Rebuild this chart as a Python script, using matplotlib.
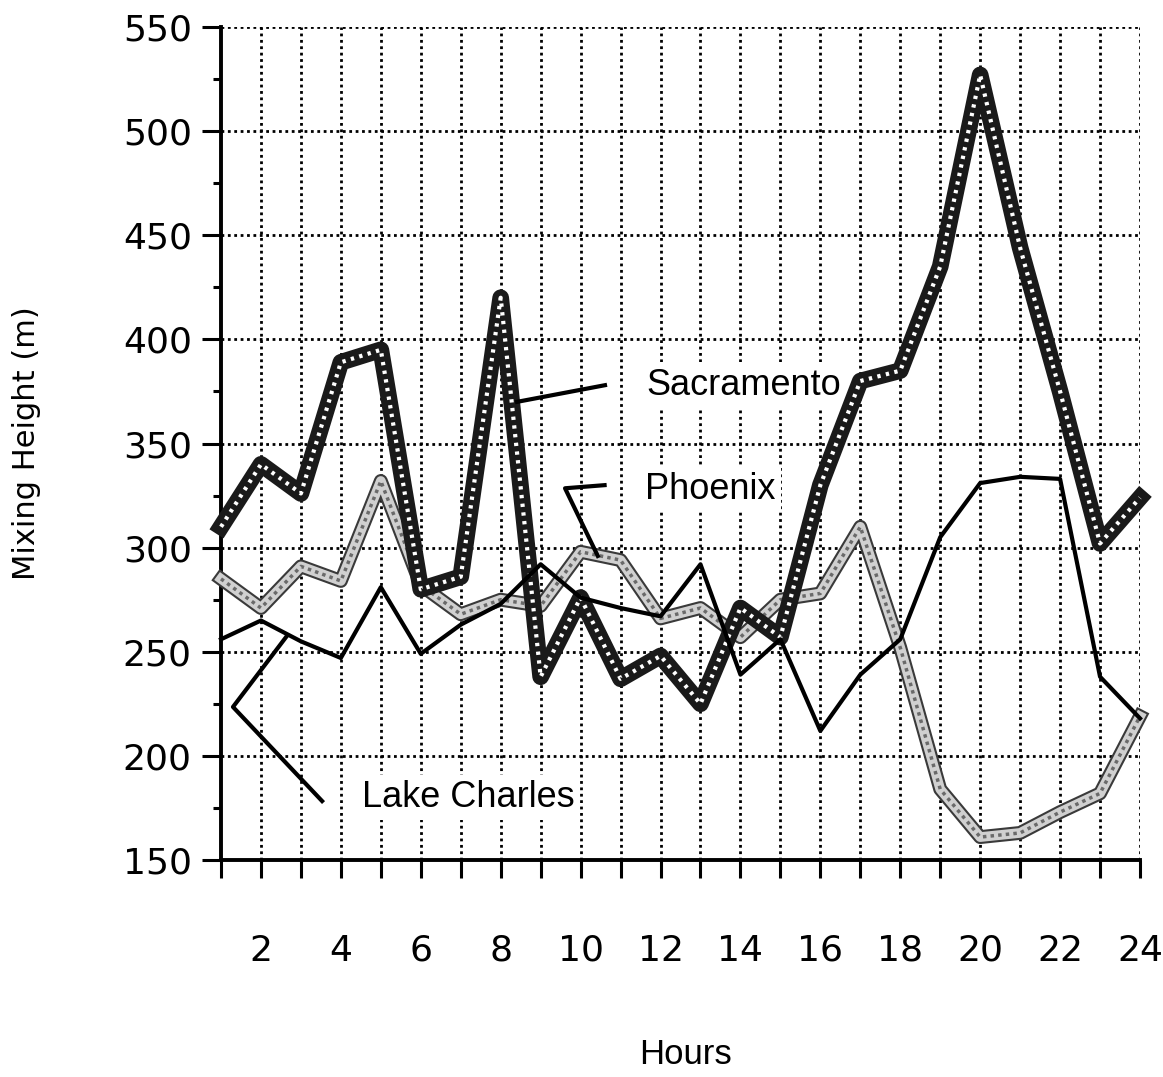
import numpy as np
import matplotlib
matplotlib.use('Agg')
import matplotlib.pyplot as plt
from matplotlib.ticker import MultipleLocator

# Dados (altura de mistura em metros, por hora)
horas = list(range(1, 25))
sacramento = [310, 340, 326, 389, 395, 280, 286, 420, 238, 276, 237, 248,
              225, 271, 257, 330, 380, 385, 435, 527, 444, 375, 302, 324]
phoenix = [285, 271, 291, 284, 332, 282, 268, 275, 272, 298, 294, 266,
           271, 257, 275, 278, 310, 252, 184, 161, 163, 173, 182, 219]
lake_charles = [256, 265, 255, 247, 281, 249, 263, 273, 292, 276, 271, 267,
                292, 239, 256, 212, 239, 256, 305, 331, 334, 333, 238, 218]

rotulos_x = [str(h) if h % 2 == 0 else '' for h in horas]
rotulos_y = [150, 200, 250, 300, 350, 400, 450, 500, 550]

# Ponteiros dos rotulos (polilinhas em coordenadas de dados)
ptr_sac_x, ptr_sac_y = [8.41, 10.61], [370, 378]
ptr_phx_x, ptr_phx_y = [10.6, 9.61, 10.43], [330, 328.5, 296]
ptr_lc_x, ptr_lc_y = [2.65, 1.30, 3.53], [257.6, 223.5, 178.3]

fonte = 'Liberation Sans'

fig = plt.figure(figsize=(11.63, 10.77), dpi=100)
ax = fig.add_axes([221/1163, 1 - 860/1077, (1140 - 221)/1163, (860 - 27)/1077])

ax.set_xlim(1, 24)
ax.set_ylim(150, 550)

# grade pontilhada
for h in horas[1:]:
    ax.axvline(h, color='black', lw=2, ls=(0, (1, 1.3)), zorder=1)
for v in rotulos_y[1:]:
    ax.axhline(v, color='black', lw=2, ls=(0, (1, 1.3)), zorder=1)

# Phoenix - linha cinza clara com textura
ax.plot(horas, phoenix, color='#3a3a3a', lw=10, solid_joinstyle='round', zorder=3, clip_on=False)
ax.plot(horas, phoenix, color='#d0d0d0', lw=7, solid_joinstyle='round', zorder=3, clip_on=False)
ax.plot(horas, phoenix, color='#6a6a6a', lw=2.5, ls=(0, (1, 1.2)), zorder=3, clip_on=False)

# Sacramento - linha grossa escura com textura de circulos
ax.plot(horas, sacramento, color='#1a1a1a', lw=12, solid_joinstyle='round', zorder=4, clip_on=False)
ax.plot(horas, sacramento, color='white', lw=3, ls=(0, (0.8, 1.3)), zorder=4, clip_on=False)

# Lake Charles - linha preta simples
ax.plot(horas, lake_charles, color='black', lw=3, zorder=5, clip_on=False)

# ponteiros e rotulos
ax.plot(ptr_sac_x, ptr_sac_y, color='black', lw=3, zorder=6)
ax.plot(ptr_phx_x, ptr_phx_y, color='black', lw=3, zorder=6)
ax.plot(ptr_lc_x, ptr_lc_y, color='black', lw=3, zorder=6, clip_on=False)

caixa = dict(facecolor='white', edgecolor='none', pad=4)
ax.text(11.65, 378, 'Sacramento', fontsize=26, family=fonte, va='center', ha='left', bbox=caixa, zorder=2)
ax.text(11.62, 328, 'Phoenix', fontsize=26, family=fonte, va='center', ha='left', bbox=caixa, zorder=2)
ax.text(4.53, 180, 'Lake Charles', fontsize=26, family=fonte, va='center', ha='left', bbox=caixa, zorder=2)

# eixos
for lado in ['top', 'right']:
    ax.spines[lado].set_visible(False)
ax.spines['left'].set_linewidth(2.8)
ax.spines['bottom'].set_linewidth(2.8)

ax.set_xticks(horas)
ax.set_xticklabels(rotulos_x)
ax.set_yticks(rotulos_y)
ax.yaxis.set_minor_locator(MultipleLocator(25))
ax.tick_params(axis='x', direction='out', length=13, width=2.2, pad=40, labelsize=26)
ax.tick_params(axis='y', which='major', direction='out', length=14, width=2.2, pad=7, labelsize=26)
ax.tick_params(axis='y', which='minor', direction='out', length=6, width=2.2)
for t in ax.get_xticklabels() + ax.get_yticklabels():
    t.set_family('DejaVu Sans')

fig.text(27/1163, 1 - 443/1077, 'Mixing Height (m)', rotation=90, fontsize=22,
         family='DejaVu Sans', ha='center', va='center')
fig.text(686/1163, 1 - 1055/1077, 'Hours', fontsize=25, family=fonte, ha='center', va='center')

fig.savefig('out.png', dpi=100)
